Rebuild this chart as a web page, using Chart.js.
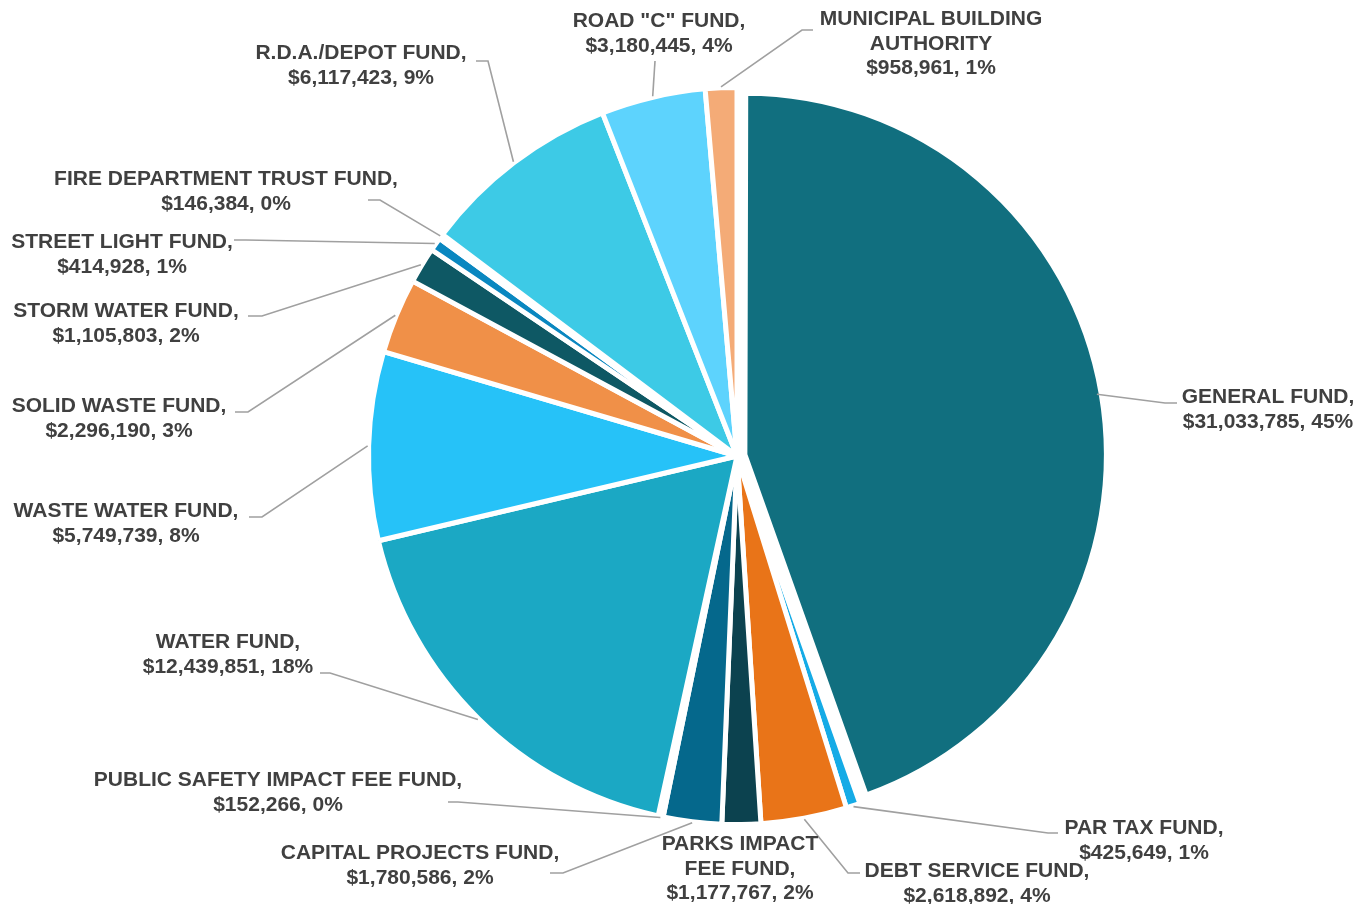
<!DOCTYPE html>
<html>
<head>
<meta charset="utf-8">
<title>Funds</title>
<script src="https://cdn.jsdelivr.net/npm/chart.js@4.4.1/dist/chart.umd.min.js"></script>
<style>
  html, body { margin: 0; padding: 0; background: #fff; }
  #wrap { width: 1367px; height: 904px; position: relative; }
</style>
</head>
<body>
<div id="wrap"><canvas id="fundChart"></canvas></div>
<script>
// slices run clockwise from 12 o'clock
const funds = [
  "GENERAL FUND", "PAR TAX FUND", "DEBT SERVICE FUND", "PARKS IMPACT FEE FUND",
  "CAPITAL PROJECTS FUND", "PUBLIC SAFETY IMPACT FEE FUND", "WATER FUND",
  "WASTE WATER FUND", "SOLID WASTE FUND", "STORM WATER FUND", "STREET LIGHT FUND",
  "FIRE DEPARTMENT TRUST FUND", "R.D.A./DEPOT FUND", 'ROAD "C" FUND',
  "MUNICIPAL BUILDING AUTHORITY"
];
const amounts = [
  31033785, 425649, 2618892, 1177767, 1780586, 152266, 12439851,
  5749739, 2296190, 1105803, 414928, 146384, 6117423, 3180445, 958961
];
// how each name wraps in its label
const nameLines = [
  ["GENERAL FUND,"], ["PAR TAX FUND,"], ["DEBT SERVICE FUND,"], ["PARKS IMPACT", "FEE FUND,"],
  ["CAPITAL PROJECTS FUND,"], ["PUBLIC SAFETY IMPACT FEE FUND,"], ["WATER FUND,"],
  ["WASTE WATER FUND,"], ["SOLID WASTE FUND,"], ["STORM WATER FUND,"], ["STREET LIGHT FUND,"],
  ["FIRE DEPARTMENT TRUST FUND,"], ["R.D.A./DEPOT FUND,"], ['ROAD "C" FUND,'],
  ["MUNICIPAL BUILDING", "AUTHORITY"]
];

const sliceColors = [
  "#116f7f", "#15abe6", "#e97418", "#0c424f", "#05688c", "#c9783c", "#1ba8c4",
  "#26c2f8", "#f09048", "#0e5864", "#0a87c0", "#eba26e", "#3dcae6", "#5dd3fd", "#f4ab77"
];

// label placement: x = text centre, y = first baseline, leader elbow and stub end
const labelSpots = [
  { x: 1268, y: 403, elbow: [1165, 403], end: [1177, 403] },
  { x: 1144, y: 834, elbow: [1048, 833], end: [1058, 833] },
  { x: 977,  y: 877, elbow: [848, 873],  end: [860, 873] },
  { x: 740,  y: 850 },
  { x: 420,  y: 859, elbow: [563, 873],  end: [550, 873] },
  { x: 278,  y: 786, elbow: [458, 802],  end: [448, 802] },
  { x: 228,  y: 648, elbow: [330, 673],  end: [320, 673] },
  { x: 126,  y: 517, elbow: [262, 517],  end: [249, 517] },
  { x: 119,  y: 412, elbow: [248, 412],  end: [235, 412] },
  { x: 126,  y: 317, elbow: [262, 316],  end: [248, 316] },
  { x: 122,  y: 248, elbow: [246, 240],  end: [234, 240] },
  { x: 226,  y: 185, elbow: [380, 200],  end: [368, 200] },
  { x: 361,  y: 59,  elbow: [488, 61],   end: [476, 61] },
  { x: 659,  y: 27,  elbow: [655, 61],   end: [655, 61] },
  { x: 931,  y: 25,  elbow: [802, 30],   end: [813, 30] }
];

// whole percentages that still add up to 100 (largest remainder)
function wholePercents(vals) {
  const total = vals.reduce((a, b) => a + b, 0);
  const raw = vals.map(v => v / total * 100);
  const out = raw.map(Math.floor);
  let left = 100 - out.reduce((a, b) => a + b, 0);
  raw.map((r, i) => [r - Math.floor(r), i])
    .sort((a, b) => b[0] - a[0])
    .slice(0, left)
    .forEach(([, i]) => out[i] += 1);
  return out;
}
const percents = wholePercents(amounts);
const money = v => "$" + v.toLocaleString("en-US");

const FONT = 'bold 20px "Liberation Sans", Arial, sans-serif';
const LINE_H = 24.5;
const EXPLODE_TRIM = 7; // pulled-out slice sits a little inside the ring

const fundLabels = {
  id: "fundLabels",
  // keep the exploded slice from growing when it is pushed out
  afterDatasetUpdate(chart, args) {
    args.meta.data.forEach(arc => {
      const off = ((arc.options && arc.options.offset) || 0) / 4;
      if (!off) return;
      arc.outerRadius -= off * (1 - Math.sin(Math.min(Math.PI, arc.circumference))) + EXPLODE_TRIM;
    });
  },
  afterDatasetsDraw(chart) {
    const ctx = chart.ctx;
    const arcs = chart.getDatasetMeta(0).data;
    ctx.save();
    ctx.strokeStyle = "#a0a0a0";
    ctx.lineWidth = 1.6;
    arcs.forEach((arc, i) => {
      const spot = labelSpots[i];
      if (!spot.elbow) return;
      const mid = (arc.startAngle + arc.endAngle) / 2;
      const off = (arc.options.offset || 0) / 4;
      const r = arc.outerRadius + off + 1;
      ctx.beginPath();
      ctx.moveTo(arc.x + Math.cos(mid) * r, arc.y + Math.sin(mid) * r);
      ctx.lineTo(spot.elbow[0], spot.elbow[1]);
      ctx.lineTo(spot.end[0], spot.end[1]);
      ctx.stroke();
    });

    ctx.fillStyle = "#404040";
    ctx.font = FONT;
    ctx.textAlign = "center";
    ctx.textBaseline = "alphabetic";
    arcs.forEach((arc, i) => {
      const spot = labelSpots[i];
      const lines = nameLines[i].concat(money(amounts[i]) + ", " + percents[i] + "%");
      lines.forEach((t, k) => {
        ctx.save();
        ctx.translate(spot.x, spot.y + k * LINE_H);
        ctx.scale(1.05, 1);
        ctx.fillText(t, 0, 0);
        ctx.restore();
      });
    });
    ctx.restore();
  }
};

new Chart(document.getElementById("fundChart"), {
  type: "pie",
  data: {
    labels: funds,
    datasets: [{
      data: amounts,
      backgroundColor: sliceColors,
      borderColor: "#ffffff",
      borderWidth: 5,
      offset: (c) => c.dataIndex === 0 ? 32 : 0
    }]
  },
  options: {
    responsive: true,
    maintainAspectRatio: false,
    animation: false,
    layout: { padding: { left: 350, top: 69, right: 243, bottom: 61 } },
    plugins: {
      legend: { display: false },
      tooltip: { enabled: false }
    }
  },
  plugins: [fundLabels]
});
</script>
</body>
</html>
